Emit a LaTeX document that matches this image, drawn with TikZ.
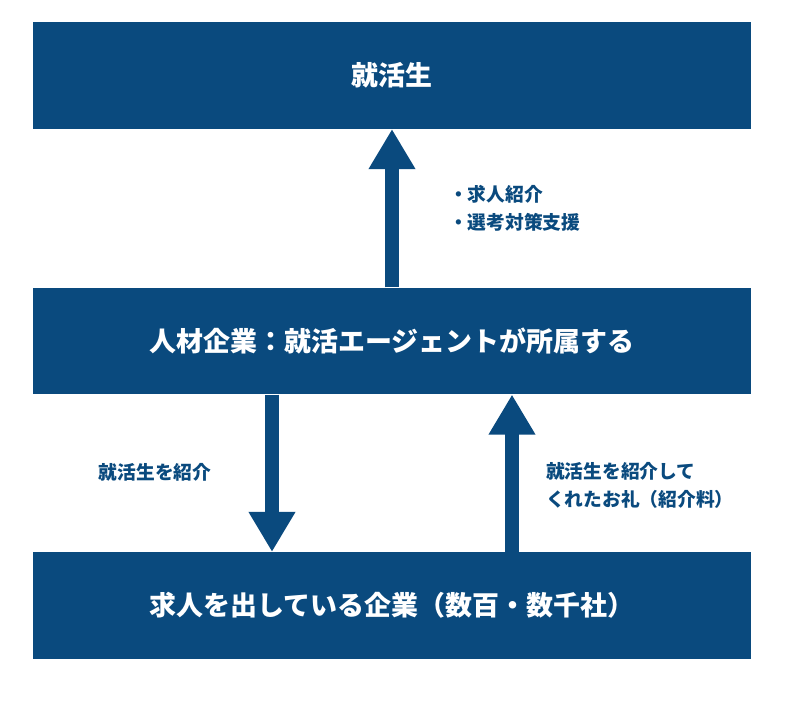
\documentclass[tikz,border=0pt]{standalone}
\usepackage{fontspec}
\setmainfont{Noto Sans CJK JP}
\usetikzlibrary{arrows.meta,positioning,calc}
\definecolor{navy}{RGB}{10,74,126}
\tikzset{
  box/.style={rectangle, fill=navy, text=white, minimum width=21.54cm, minimum height=3.2cm, font=\bfseries\fontsize{23}{28}\selectfont},
  bigarrow/.style={navy, line width=0.42cm, -{Triangle[width=1.32cm,length=1.2cm]}},
  lbl/.style={text=navy, font=\bfseries\fontsize{16}{24}\selectfont, align=left}
}
\begin{document}
\begin{tikzpicture}[x=0.03cm,y=-0.03cm]
\useasboundingbox (0,0) rectangle (800,701);
\node[box] (student) at (392,75.5) {就活生};
\node[box] (agent) at (392,341) {人材企業：就活エージェントが所属する};
\node[box] (company) at (392,605.5) {求人を出している企業（数百・数千社）};

\draw[bigarrow] (agent.north -| 392,0) -- (student.south -| 392,0);
\draw[bigarrow] (agent.south -| 272,0) -- (company.north -| 272,0);
\draw[bigarrow] (company.north -| 512,0) -- (agent.south -| 512,0);

\node[lbl, anchor=west] (support) at (445,208) {・求人紹介\\・選考対策支援};
\node[lbl] (intro) at (155,472) {就活生を紹介};
\node[lbl, anchor=west] (fee) at (542,485) {就活生を紹介して\\くれたお礼（紹介料）};
\end{tikzpicture}
\end{document}
